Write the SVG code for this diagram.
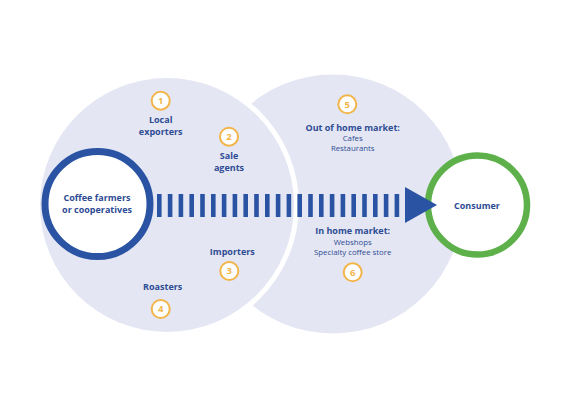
<svg xmlns="http://www.w3.org/2000/svg" width="576" height="407" viewBox="0 0 576 407">
<style>
.t{font-family:"Open Sans","Liberation Sans",sans-serif;fill:#2E4C94;text-anchor:middle}
.b{font-weight:bold;font-size:9px}
.r{font-size:7.8px}
.num circle{fill:#ffffff;stroke:#F2B54A;stroke-width:2}
.num text{font-family:"Open Sans","Liberation Sans",sans-serif;font-weight:bold;font-size:9.5px;fill:#F2B54A;text-anchor:middle}
</style>
<rect width="576" height="407" fill="#ffffff"/>
<g id="zone-market">
<circle cx="333" cy="204" r="129.5" fill="#E4E6F3"/>
</g>
<g id="zone-supply">
<circle cx="167" cy="205" r="132" fill="#ffffff"/>
<circle cx="167" cy="205" r="127" fill="#E4E6F3"/>
</g>
<g id="farmers">
<circle cx="97.5" cy="204" r="52.5" fill="#ffffff" stroke="#2A54A3" stroke-width="7"/>
<text class="t b" x="97" y="200.8">Coffee farmers</text>
<text class="t b" x="97" y="212.6">or cooperatives</text>
</g>
<g id="consumer">
<circle cx="477.5" cy="205" r="49.5" fill="#ffffff" stroke="#5DB04A" stroke-width="6.5"/>
<text class="t b" x="477" y="209">Consumer</text>
</g>
<g id="connectors">
<line x1="157" y1="205.5" x2="402" y2="205.5" stroke="#2A54A3" stroke-width="23" stroke-dasharray="4.6 6.2"/>
<polygon points="405,187 405,223 437,205" fill="#2A54A3"/>
</g>
<g id="step1">
<g class="num"><circle cx="160.7" cy="100.7" r="9"/><text x="160.7" y="104">1</text></g>
<text class="t b" x="160.7" y="123.2">Local</text>
<text class="t b" x="160.7" y="134.9">exporters</text>
</g>
<g id="step2">
<g class="num"><circle cx="229" cy="136.7" r="9"/><text x="229" y="140">2</text></g>
<text class="t b" x="229" y="159.2">Sale</text>
<text class="t b" x="229" y="170.9">agents</text>
</g>
<g id="step3">
<text class="t b" x="232.3" y="254.9">Importers</text>
<g class="num"><circle cx="229.3" cy="271" r="9"/><text x="229.3" y="274.3">3</text></g>
</g>
<g id="step4">
<text class="t b" x="162.7" y="289.9">Roasters</text>
<g class="num"><circle cx="160.7" cy="309" r="9"/><text x="160.7" y="312.3">4</text></g>
</g>
<g id="step5">
<g class="num"><circle cx="347.3" cy="104.3" r="9"/><text x="347.3" y="107.6">5</text></g>
<text class="t b" x="352.7" y="130.9">Out of home market:</text>
<text class="t r" x="352.7" y="141.1">Cafes</text>
<text class="t r" x="352.7" y="151.1">Restaurants</text>
</g>
<g id="step6">
<text class="t b" x="352.7" y="234.2">In home market:</text>
<text class="t r" x="352.7" y="244.5">Webshops</text>
<text class="t r" x="352.7" y="254.5">Specialty coffee store</text>
<g class="num"><circle cx="352.7" cy="272.3" r="9"/><text x="352.7" y="275.6">6</text></g>
</g>
</svg>
